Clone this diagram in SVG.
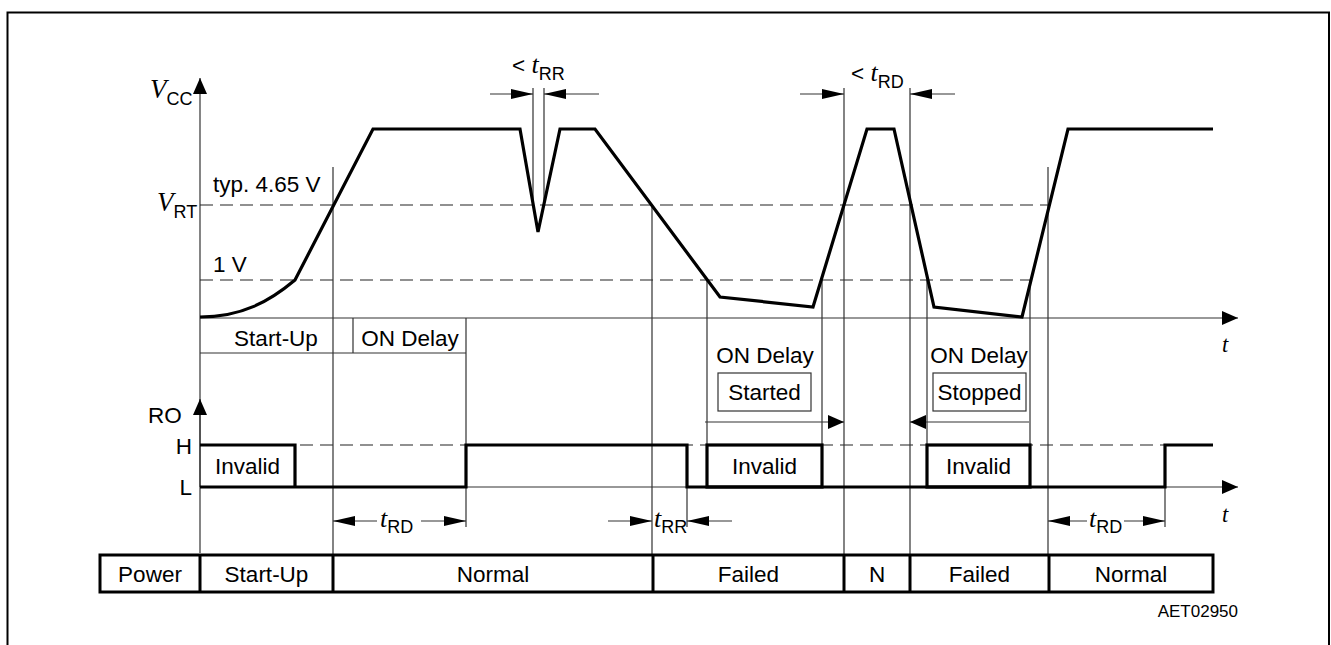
<svg xmlns="http://www.w3.org/2000/svg" width="1331" height="645" viewBox="0 0 1331 645">
<style>
.bg{fill:#fff}
.frame{fill:none;stroke:#000;stroke-width:2}
.thin{fill:none;stroke:#333;stroke-width:1.2}
.dash{fill:none;stroke:#222;stroke-width:1.2;stroke-dasharray:13 7}
.wave{fill:none;stroke:#000;stroke-width:3.2;stroke-linejoin:miter}
.cell{fill:none;stroke:#000;stroke-width:3}
.lbl{font-family:"Liberation Sans",Arial,sans-serif;font-size:22.5px;fill:#000}
.mid{text-anchor:middle}
.end{text-anchor:end}
.it{font-family:"Liberation Serif","Times New Roman",serif;font-style:italic}
.sub{font-size:18px}
.small{font-family:"Liberation Sans",Arial,sans-serif;font-size:17px;fill:#000}
</style>
<defs>
<marker id="dim" viewBox="0 0 22 10" refX="22" refY="5" markerWidth="22" markerHeight="10" markerUnits="userSpaceOnUse" orient="auto"><path d="M0,0 L22,5 L0,10 z" fill="#000"/></marker>
<marker id="dim2" viewBox="0 0 16 14" refX="16" refY="7" markerWidth="16" markerHeight="14" markerUnits="userSpaceOnUse" orient="auto"><path d="M0,0 L16,7 L0,14 z" fill="#000"/></marker>
<marker id="axh" viewBox="0 0 16 14" refX="16" refY="7" markerWidth="16" markerHeight="14" markerUnits="userSpaceOnUse" orient="auto"><path d="M0,0 L16,7 L0,14 z" fill="#000"/></marker>
</defs>
<rect class="bg" x="0" y="0" width="1331" height="645"/>
<path id="frame" class="frame" d="M7.5,645 V12.5 H1329 V645"/>

<g id="connectors">
  <path class="thin" d="M200,553 V78" marker-end="url(#axh)"/>
  <path class="thin" d="M200,487 V399" marker-end="url(#axh)"/>
  <path class="thin" d="M200,318 H1238" marker-end="url(#axh)"/>
  <path class="thin" d="M200,487 H1238" marker-end="url(#axh)"/>
  <path class="dash" d="M200,205 H1048"/>
  <path class="dash" d="M200,280 H1030"/>
  <path class="dash" d="M200,445 H1213"/>
  <path class="thin" d="M200,353 H466 M353,318 V353"/>
  <path class="thin" d="M333,167 V555 M466,318 V527 M533,88 V205 M544,88 V205 M652,205 V555 M687,487 V527 M707,280 V487 M822,280 V487 M844,88 V555 M910,88 V555 M927,280 V487 M1030,280 V487 M1048,167 V555 M1165,487 V527"/>
  <path class="thin" d="M490,94 H533" marker-end="url(#dim)"/>
  <path class="thin" d="M599,94 H544" marker-end="url(#dim)"/>
  <path class="thin" d="M800,94 H844" marker-end="url(#dim)"/>
  <path class="thin" d="M955,94 H910" marker-end="url(#dim)"/>
  <path class="thin" d="M705,422 H844" marker-end="url(#dim2)"/>
  <path class="thin" d="M1029,422 H910" marker-end="url(#dim2)"/>
  <path class="thin" d="M377,521 H333" marker-end="url(#dim)"/>
  <path class="thin" d="M421,521 H466" marker-end="url(#dim)"/>
  <path class="thin" d="M608,521 H652" marker-end="url(#dim)"/>
  <path class="thin" d="M732,521 H687" marker-end="url(#dim)"/>
  <path class="thin" d="M1087,521 H1048" marker-end="url(#dim)"/>
  <path class="thin" d="M1124,521 H1165" marker-end="url(#dim)"/>
</g>

<g id="vcc-wave">
  <path class="wave" d="M200,317 C242,317 270,301 295,280 L373,129 L520,129 L538,232 L560,129 L595,129 L720,297 L813,307 L867,129 L894,129 L934,307 L1022,317 L1068,129 L1213,129"/>
</g>

<g id="ro-wave">
  <path class="wave" d="M200,487 H466 V445 H687 V487 H1165 V445 H1213"/>
  <path class="wave" d="M200,445 H295 V487"/>
  <rect class="wave" x="707" y="445" width="115" height="42"/>
  <rect class="wave" x="927" y="445" width="103" height="42"/>
</g>

<g id="axis-labels">
  <text class="lbl" x="150" y="98"><tspan class="it" font-size="27">V</tspan><tspan class="sub" dy="7">CC</tspan></text>
  <text class="lbl" x="157" y="211"><tspan class="it" font-size="27">V</tspan><tspan class="sub" dy="7">RT</tspan></text>
  <text class="lbl" x="213" y="192">typ. 4.65 V</text>
  <text class="lbl" x="213" y="272">1 V</text>
  <text class="lbl it" x="1222" y="352" font-size="28">t</text>
  <text class="lbl it" x="1222" y="522" font-size="28">t</text>
  <text class="lbl" x="148" y="423">RO</text>
  <text class="lbl end" x="192" y="454">H</text>
  <text class="lbl end" x="192" y="495">L</text>
</g>

<g id="timing-labels">
  <text class="lbl" x="512" y="73">&lt; <tspan class="it" font-size="26">t</tspan><tspan class="sub" dy="7">RR</tspan></text>
  <text class="lbl" x="851" y="81">&lt; <tspan class="it" font-size="26">t</tspan><tspan class="sub" dy="7">RD</tspan></text>
  <text class="lbl" x="380" y="527"><tspan class="it" font-size="26">t</tspan><tspan class="sub" dy="6">RD</tspan></text>
  <text class="lbl" x="654" y="527"><tspan class="it" font-size="26">t</tspan><tspan class="sub" dy="6">RR</tspan></text>
  <text class="lbl" x="1089" y="527"><tspan class="it" font-size="26">t</tspan><tspan class="sub" dy="6">RD</tspan></text>
</g>

<g id="startup-box">
  <text class="lbl mid" x="276" y="346">Start-Up</text>
  <text class="lbl mid" x="410" y="346">ON Delay</text>
</g>

<g id="on-delay-started">
  <text class="lbl mid" x="765" y="363">ON Delay</text>
  <rect class="thin" x="718" y="373" width="93" height="38"/>
  <text class="lbl mid" x="764.5" y="400">Started</text>
</g>
<g id="on-delay-stopped">
  <text class="lbl mid" x="979" y="363">ON Delay</text>
  <rect class="thin" x="933" y="373" width="93" height="38"/>
  <text class="lbl mid" x="979.5" y="400">Stopped</text>
</g>

<g id="invalid-labels">
  <text class="lbl mid" x="247.5" y="474">Invalid</text>
  <text class="lbl mid" x="764.5" y="474">Invalid</text>
  <text class="lbl mid" x="978.5" y="474">Invalid</text>
</g>

<g id="state-table">
  <rect class="cell" x="100" y="555" width="1113" height="37"/>
  <path class="cell" d="M200,555 V592 M333,555 V592 M653,555 V592 M844,555 V592 M910,555 V592 M1049,555 V592"/>
  <g id="cell-power"><text class="lbl mid" x="150" y="582">Power</text></g>
  <g id="cell-startup"><text class="lbl mid" x="266.5" y="582">Start-Up</text></g>
  <g id="cell-normal1"><text class="lbl mid" x="493" y="582">Normal</text></g>
  <g id="cell-failed1"><text class="lbl mid" x="748.5" y="582">Failed</text></g>
  <g id="cell-n"><text class="lbl mid" x="877" y="582">N</text></g>
  <g id="cell-failed2"><text class="lbl mid" x="979.5" y="582">Failed</text></g>
  <g id="cell-normal2"><text class="lbl mid" x="1131" y="582">Normal</text></g>
</g>

<text id="ref" class="small end" x="1238" y="617">AET02950</text>
</svg>
